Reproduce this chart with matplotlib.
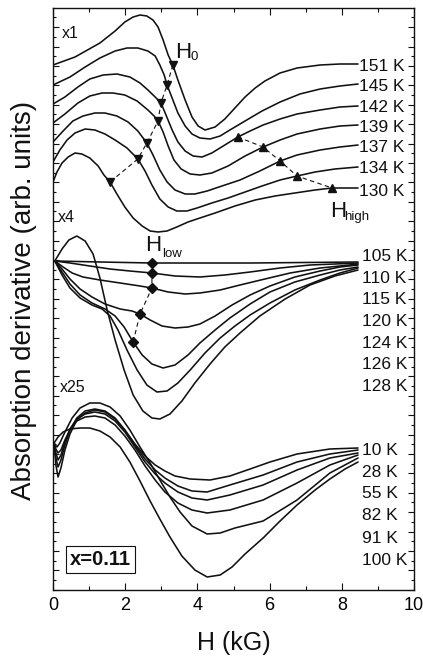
import numpy as np
import matplotlib
matplotlib.use("Agg")
import matplotlib.pyplot as plt
from matplotlib.ticker import FixedLocator, MultipleLocator

plt.rcParams['font.family'] = ['Liberation Sans', 'DejaVu Sans']

# ---------------- x1 group (130-151 K) ----------------
H_151 = [0.00, 0.61, 1.30, 1.72, 1.99, 2.22, 2.41, 2.60, 2.77, 2.91, 3.05, 3.19, 3.32, 3.46, 3.66, 3.85, 4.02, 4.21, 4.49, 4.76, 5.04, 5.32, 5.60, 5.87, 6.29, 6.76, 7.40, 7.95, 8.45]
Y_151 = [535, 543, 557, 569, 578, 583, 585, 584, 580, 573, 560, 545, 535, 520, 500, 483, 474, 470, 473, 481, 492, 503, 512, 519, 527, 532, 535, 536, 536]

H_145 = [0.00, 0.47, 0.89, 1.30, 1.72, 2.05, 2.35, 2.63, 2.83, 2.96, 3.08, 3.16, 3.30, 3.46, 3.66, 3.85, 4.07, 4.35, 4.63, 4.90, 5.32, 5.79, 6.29, 6.84, 7.40, 7.95, 8.45]
Y_145 = [515, 523, 533, 542, 549, 552, 552, 549, 544, 535, 525, 515, 502, 487, 474, 466, 462, 461, 464, 470, 479, 489, 498, 506, 511, 514, 516]

H_142 = [0.00, 0.33, 0.69, 1.02, 1.39, 1.77, 2.13, 2.41, 2.63, 2.83, 2.99, 3.13, 3.30, 3.46, 3.66, 3.88, 4.13, 4.40, 4.76, 5.12, 5.46, 5.82, 6.29, 6.76, 7.40, 7.95, 8.45]
Y_142 = [496, 503, 513, 521, 525, 526, 523, 517, 510, 503, 497, 485, 470, 458, 449, 444, 443, 447, 455, 463, 469, 475, 481, 486, 490, 493, 494]

H_139 = [0.00, 0.33, 0.69, 1.02, 1.36, 1.66, 1.99, 2.33, 2.63, 2.80, 2.91, 3.05, 3.19, 3.35, 3.55, 3.80, 4.07, 4.40, 4.85, 5.32, 5.82, 6.29, 6.76, 7.40, 7.95, 8.45]
Y_139 = [477, 486, 497, 504, 507, 507, 505, 499, 490, 484, 479, 468, 454, 440, 431, 426, 425, 427, 434, 444, 453, 460, 466, 471, 474, 475]

H_137 = [0.00, 0.28, 0.55, 0.83, 1.16, 1.44, 1.77, 2.08, 2.35, 2.60, 2.77, 2.96, 3.16, 3.38, 3.66, 3.93, 4.27, 4.68, 5.18, 5.73, 6.29, 6.76, 7.40, 7.95, 8.45]
Y_137 = [458, 469, 479, 484, 487, 487, 484, 478, 469, 457, 445, 430, 418, 410, 406, 406, 409, 414, 420, 429, 439, 445, 450, 453, 455]

H_134 = [0.00, 0.19, 0.39, 0.61, 0.89, 1.16, 1.44, 1.72, 2.05, 2.35, 2.55, 2.74, 2.96, 3.19, 3.43, 3.71, 3.99, 4.40, 4.85, 5.32, 5.79, 6.29, 6.76, 7.26, 7.81, 8.45]
Y_134 = [438, 450, 460, 467, 471, 470, 466, 460, 452, 441, 429, 415, 401, 393, 389, 389, 392, 397, 402, 408, 414, 420, 424, 428, 431, 433]

H_130 = [0.00, 0.11, 0.25, 0.42, 0.61, 0.80, 1.02, 1.25, 1.41, 1.58, 1.77, 1.99, 2.22, 2.47, 2.69, 2.91, 3.16, 3.43, 3.74, 4.07, 4.49, 5.04, 5.60, 6.15, 6.70, 7.26, 7.73, 8.45]
Y_130 = [418, 428, 437, 443, 447, 446, 442, 434, 425, 418, 406, 393, 382, 374, 369, 368, 369, 373, 378, 382, 387, 394, 400, 404, 407, 410, 412, 412]

# H0 (down triangles) and H_high (up triangles)
H0_H = [3.32, 3.16, 2.99, 2.91, 2.60, 2.35, 1.58]
H0_Y = [535, 515, 497, 479, 457, 441, 418]
HHIGH_H = [5.12, 5.82, 6.29, 6.76, 7.73]
HHIGH_Y = [463, 453, 439, 424, 412]

# ---------------- x4 group (105-128 K) ----------------
H_105 = [0.05, 1.30, 2.74, 5.46, 8.45]
Y_105 = [339, 338, 337, 337, 338]

H_110 = [0.05, 0.47, 1.02, 1.58, 2.13, 2.74, 3.38, 4.07, 4.76, 5.46, 6.29, 7.12, 7.81, 8.45]
Y_110 = [339, 337, 334, 331, 329, 327, 324, 323, 325, 328, 332, 335, 336, 337]

H_115 = [0.05, 0.28, 0.53, 0.83, 1.30, 1.86, 2.41, 2.74, 3.19, 3.66, 4.07, 4.63, 5.18, 5.87, 6.57, 7.40, 7.95, 8.45]
Y_115 = [339, 333, 327, 323, 320, 317, 314, 312, 308, 306, 307, 310, 315, 321, 327, 332, 334, 336]

H_120 = [0.05, 0.25, 0.47, 0.75, 1.08, 1.44, 1.86, 2.19, 2.41, 2.69, 3.02, 3.38, 3.74, 4.07, 4.49, 4.96, 5.46, 6.01, 6.70, 7.40, 7.95, 8.45]
Y_120 = [339, 331, 321, 311, 303, 296, 291, 289, 286, 280, 274, 272, 273, 276, 284, 295, 305, 314, 323, 329, 333, 335]

H_124 = [0.05, 0.25, 0.47, 0.75, 1.08, 1.44, 1.72, 1.97, 2.22, 2.47, 2.74, 3.05, 3.38, 3.74, 4.07, 4.49, 4.90, 5.46, 6.01, 6.70, 7.40, 7.95, 8.45]
Y_124 = [339, 328, 316, 305, 297, 291, 284, 273, 258, 245, 236, 232, 235, 245, 257, 270, 282, 296, 308, 318, 325, 330, 333]

H_126 = [0.05, 0.25, 0.47, 0.75, 1.08, 1.36, 1.58, 1.80, 2.05, 2.33, 2.60, 2.88, 3.16, 3.46, 3.80, 4.21, 4.63, 5.04, 5.46, 6.01, 6.70, 7.40, 7.95, 8.45]
Y_126 = [339, 325, 312, 302, 295, 291, 284, 270, 250, 230, 215, 208, 209, 217, 230, 247, 262, 274, 285, 297, 310, 320, 327, 332]

H_128 = [0.05, 0.25, 0.44, 0.66, 0.89, 1.11, 1.30, 1.50, 1.72, 1.97, 2.22, 2.49, 2.74, 2.96, 3.24, 3.57, 3.93, 4.35, 4.76, 5.18, 5.73, 6.43, 7.12, 7.81, 8.45]
Y_128 = [339, 351, 360, 364, 359, 346, 322, 290, 260, 230, 205, 189, 182, 181, 186, 199, 217, 236, 253, 267, 284, 301, 315, 324, 330]

# H_low (diamonds)
HLOW_H = [2.74, 2.74, 2.74, 2.41, 2.22]
HLOW_Y = [337, 327, 312, 286, 258]

# ---------------- x25 group (10-100 K) ----------------
H_10 = [0.03, 0.08, 0.14, 0.22, 0.33, 0.47, 0.66, 0.89, 1.16, 1.44, 1.72, 1.99, 2.27, 2.55, 2.83, 3.10, 3.38, 3.80, 4.35, 4.90, 5.46, 6.01, 6.76, 7.67, 8.45]
Y_10 = [157, 135, 123, 132, 150, 166, 180, 187, 190, 188, 181, 170, 156, 144, 135, 129, 124, 121, 120, 124, 131, 138, 146, 151, 152]

H_28 = [0.03, 0.08, 0.14, 0.22, 0.33, 0.47, 0.66, 0.89, 1.16, 1.44, 1.72, 1.99, 2.27, 2.55, 2.83, 3.10, 3.46, 3.85, 4.27, 4.90, 5.82, 6.76, 7.67, 8.45]
Y_28 = [157, 142, 133, 140, 155, 170, 182, 189, 191, 189, 182, 170, 155, 141, 130, 122, 114, 109, 108, 115, 125, 138, 146, 150]

H_55 = [0.03, 0.08, 0.14, 0.22, 0.33, 0.47, 0.66, 0.89, 1.16, 1.44, 1.72, 1.99, 2.27, 2.55, 2.83, 3.10, 3.46, 3.85, 4.27, 4.90, 5.82, 6.76, 7.67, 8.45]
Y_55 = [157, 147, 140, 145, 158, 171, 181, 186, 188, 186, 179, 168, 153, 138, 126, 117, 108, 102, 100, 105, 115, 130, 142, 147]

H_82 = [0.03, 0.08, 0.14, 0.22, 0.33, 0.47, 0.66, 0.89, 1.16, 1.44, 1.72, 1.99, 2.27, 2.55, 2.83, 3.10, 3.46, 3.85, 4.27, 4.90, 5.82, 6.76, 7.67, 8.45]
Y_82 = [157, 151, 147, 150, 160, 170, 179, 183, 184, 182, 175, 164, 150, 134, 120, 108, 97, 90, 87, 90, 100, 117, 135, 145]

H_91 = [0.03, 0.11, 0.19, 0.33, 0.53, 0.75, 1.02, 1.30, 1.58, 1.86, 2.13, 2.41, 2.69, 2.96, 3.24, 3.52, 3.85, 4.27, 4.63, 5.04, 5.82, 6.76, 7.67, 8.45]
Y_91 = [157, 153, 157, 168, 182, 192, 197, 197, 193, 184, 170, 153, 137, 120, 103, 88, 74, 66, 67, 72, 79, 100, 127, 142]

H_100 = [0.03, 0.14, 0.28, 0.47, 0.75, 1.02, 1.30, 1.58, 1.86, 2.13, 2.41, 2.69, 2.96, 3.24, 3.57, 3.93, 4.27, 4.63, 4.96, 5.32, 5.82, 6.29, 6.76, 7.26, 7.67, 8.09, 8.45]
Y_100 = [157, 163, 168, 171, 172, 172, 169, 163, 153, 138, 119, 99, 81, 63, 44, 30, 23, 25, 33, 46, 62, 79, 95, 110, 121, 131, 138]

# labels
TOP_LABELS = ['151 K', '145 K', '142 K', '139 K', '137 K', '134 K', '130 K']
MID_LABELS = ['105 K', '110 K', '115 K', '120 K', '124 K', '126 K', '128 K']
BOT_LABELS = ['10 K', '28 K', '55 K', '82 K', '91 K', '100 K']

# ---------------- figure ----------------
fig = plt.figure(figsize=(4.23, 6.6), dpi=100)
ax = fig.add_axes([53/423, 70/660, 361/423, 582/660])

LC = '#111111'
LW = 1.15
top = [(H_151, Y_151), (H_145, Y_145), (H_142, Y_142), (H_139, Y_139),
       (H_137, Y_137), (H_134, Y_134), (H_130, Y_130)]
mid = [(H_105, Y_105), (H_110, Y_110), (H_115, Y_115), (H_120, Y_120),
       (H_124, Y_124), (H_126, Y_126), (H_128, Y_128)]
bot = [(H_10, Y_10), (H_28, Y_28), (H_55, Y_55), (H_82, Y_82),
       (H_91, Y_91), (H_100, Y_100)]
for h, y in top + mid + bot:
    ax.plot(h, y, color=LC, lw=LW, solid_joinstyle='round', solid_capstyle='round')

dash = (0, (4, 3))
ax.plot(H0_H, H0_Y, color=LC, lw=0.8, ls=dash, marker='v', ms=6, zorder=4)
ax.plot(HHIGH_H, HHIGH_Y, color=LC, lw=0.8, ls=dash, marker='^', ms=6, zorder=4)
ax.plot(HLOW_H, HLOW_Y, color=LC, lw=0.8, ls=dash, marker='D', ms=5, zorder=4)

# temperature labels
top_base = [529, 509, 488, 468, 448, 427, 404]
mid_base = [339, 317, 296, 274, 252, 231, 209]
bot_base = [145, 123, 102, 80, 57, 35]
for s, yb in zip(TOP_LABELS, top_base):
    ax.text(8.47, yb, s, fontsize=12.5, ha='left', va='baseline', color=LC)
for s, yb in zip(MID_LABELS, mid_base):
    ax.text(8.57, yb, s, fontsize=12.5, ha='left', va='baseline', color=LC)
for s, yb in zip(BOT_LABELS, bot_base):
    ax.text(8.57, yb, s, fontsize=12.5, ha='left', va='baseline', color=LC)

# scale factors
ax.text(0.25, 562, 'x1', fontsize=11.5, va='baseline', color=LC)
ax.text(0.14, 378, 'x4', fontsize=11.5, va='baseline', color=LC)
ax.text(0.19, 208, 'x25', fontsize=11.5, va='baseline', color=LC)

# field labels
ax.text(3.38, 542, 'H', fontsize=16, va='baseline', color=LC)
ax.text(3.80, 540, '0', fontsize=9.5, va='baseline', color=LC)
ax.text(7.67, 383, 'H', fontsize=16, va='baseline', color=LC)
ax.text(8.06, 380, 'high', fontsize=9.5, va='baseline', color=LC)
ax.text(2.55, 349, 'H', fontsize=16, va='baseline', color=LC)
ax.text(3.02, 343, 'low', fontsize=9.5, va='baseline', color=LC)

ax.text(0.47, 35, 'x=0.11', fontsize=14.5, fontweight='bold', va='baseline', color=LC,
        bbox=dict(boxstyle='square,pad=0.18', fc='white', ec=LC, lw=0.8))

ax.set_xlim(0, 10)
ax.set_ylim(10, 592)

ax.set_xticks(np.arange(0, 11, 2))
ax.xaxis.set_minor_locator(MultipleLocator(1))
ax.tick_params(axis='x', which='both', direction='in', top=True, bottom=True,
               labelsize=13, pad=4.7, width=0.8, color=LC)
ax.tick_params(axis='x', which='major', length=5)
ax.tick_params(axis='x', which='minor', length=3)

ystep = 9.7
ymaj = np.arange(534 - 2 * ystep * 30, 592, 2 * ystep)
ymin = np.arange(534 - ystep * 60, 592, ystep)
ax.yaxis.set_major_locator(FixedLocator(ymaj[ymaj > 10]))
ax.yaxis.set_minor_locator(FixedLocator(ymin[ymin > 10]))
ax.tick_params(axis='y', which='both', direction='in', left=True, right=True,
               labelleft=False, width=0.8, color=LC)
ax.tick_params(axis='y', which='major', length=4)
ax.tick_params(axis='y', which='minor', length=2.5)

for sp in ax.spines.values():
    sp.set_linewidth(1.0)
    sp.set_color(LC)

ax.set_xlabel('H (kG)', fontsize=18, color=LC)
ax.xaxis.set_label_coords(0.5, -0.071)
ax.set_ylabel('Absorption derivative (arb. units)', fontsize=20, color=LC)
ax.yaxis.set_label_coords(-0.043, 0.498)

fig.savefig('out.png', dpi=100)
